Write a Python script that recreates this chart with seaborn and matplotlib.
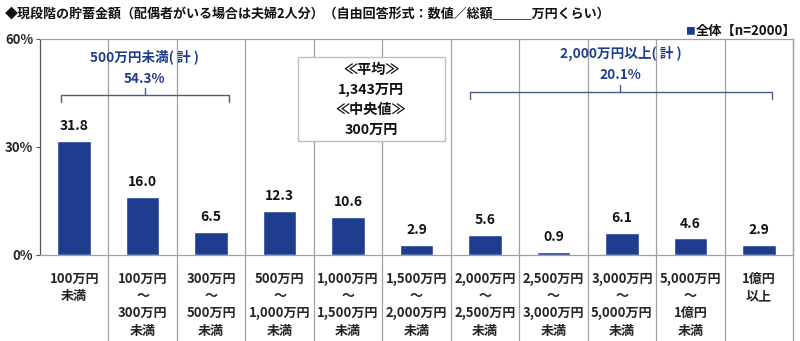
import matplotlib
matplotlib.use("Agg")
import matplotlib.pyplot as plt
import seaborn as sns
import pandas as pd
from matplotlib.patches import Rectangle

categories = ["100万円\n未満", "100万円\n～\n300万円\n未満", "300万円\n～\n500万円\n未満",
              "500万円\n～\n1,000万円\n未満", "1,000万円\n～\n1,500万円\n未満",
              "1,500万円\n～\n2,000万円\n未満", "2,000万円\n～\n2,500万円\n未満",
              "2,500万円\n～\n3,000万円\n未満", "3,000万円\n～\n5,000万円\n未満",
              "5,000万円\n～\n1億円\n未満", "1億円\n以上"]
values = [31.8, 16.0, 6.5, 12.3, 10.6, 2.9, 5.6, 0.9, 6.1, 4.6, 2.9]
yticks = [0, 30, 60]
ytick_labels = ["0%", "30%", "60%"]
title = "◆現段階の貯蓄金額（配偶者がいる場合は夫婦2人分）（自由回答形式：数値／総額＿＿＿万円くらい）"
legend_label = "全体【n=2000】"
group1_label = "500万円未満( 計 )"
group1_value = "54.3%"
group2_label = "2,000万円以上( 計 )"
group2_value = "20.1%"
box_lines = ["≪平均≫", "1,343万円", "≪中央値≫", "300万円"]

sns.set_theme(style="white")
plt.rcParams['font.family'] = ['Noto Sans CJK JP', 'DejaVu Sans']

BAR = "#1f3d8f"
GRID = "#a0a0a0"

fig = plt.figure(figsize=(8, 3.41), dpi=100)
ax = fig.add_axes([40/800, 1-255/341, 753/800, (255-39)/341])

df = pd.DataFrame({"cat": categories, "val": values})
sns.barplot(data=df, x="cat", y="val", color=BAR, width=0.49, saturation=1, ax=ax)

n = len(categories)
ax.set_xlim(-0.5, n - 0.5)
ax.set_ylim(0, 60)
ax.set_yticks(yticks)
ax.set_yticklabels(ytick_labels, fontsize=9.5, fontweight="bold")
ax.set_xlabel("")
ax.set_ylabel("")
ax.tick_params(axis="y", length=3, width=0.8, color="#555555", left=True, pad=2)
ax.tick_params(axis="x", length=0, pad=12)
ax.set_xticks(range(n))
ax.set_xticklabels(categories, fontsize=9.4, fontweight="bold", linespacing=1.3, va="top")

for s in ["top", "right", "bottom"]:
    ax.spines[s].set_color(GRID)
    ax.spines[s].set_linewidth(0.9)
ax.spines["left"].set_color("#555555")
ax.spines["left"].set_linewidth(0.9)

# vertical separators extending down through the labels
trans = ax.get_xaxis_transform()
low = -(341 - 255) / (255 - 39)
for i in range(n):
    xb = i + 0.5
    ax.plot([xb, xb], [low, 1], color=GRID, lw=0.9, transform=trans, clip_on=False, zorder=0)

# value labels
for i, v in enumerate(values):
    ax.text(i, v + 2.2, f"{v:.1f}", ha="center", va="bottom", fontsize=10, fontweight="bold",
            color="#111111")

# brackets
def bracket(x0, x1, xm, y, label, value):
    ax.plot([x0, x0, x1, x1], [y - 2.0, y, y, y - 2.0], color="#4a5a8c", lw=1.0, clip_on=False, zorder=3)
    ax.plot([xm, xm], [y, y + 2.0], color="#4a5a8c", lw=1.0, zorder=3)
    ax.text(xm, y + 10.6, label, ha="center", va="center", fontsize=9.8, fontweight="bold", color=BAR)
    ax.text(xm, y + 4.6, value, ha="center", va="center", fontsize=9.8, fontweight="bold", color=BAR)

bracket(-0.19, 2.26, 1.03, 44.4, group1_label, group1_value)
bracket(5.78, 10.2, 7.98, 45.3, group2_label, group2_value)

# mean/median box
box = Rectangle((3.27, 31.7), 2.14, 23.3, facecolor="white", edgecolor="#c0c0c0", lw=1.0, zorder=4)
ax.add_patch(box)
ys = [51.4, 45.8, 40.3, 34.7]
for t, yy in zip(box_lines, ys):
    ax.text(4.34, yy, t, ha="center", va="center", fontsize=10.2, fontweight="bold", color="#111111", zorder=5)

# title and legend
fig.text(5/800, 1-14/341, title, ha="left", va="center", fontsize=9.4, fontweight="bold", color="#111111")
fig.text(685/800, 1-31/341, "■", ha="left", va="center", fontsize=7, color=BAR)
fig.text(696/800, 1-31/341, legend_label, ha="left", va="center", fontsize=9.5, fontweight="bold", color="#111111")

fig.savefig("out.png", dpi=100)
